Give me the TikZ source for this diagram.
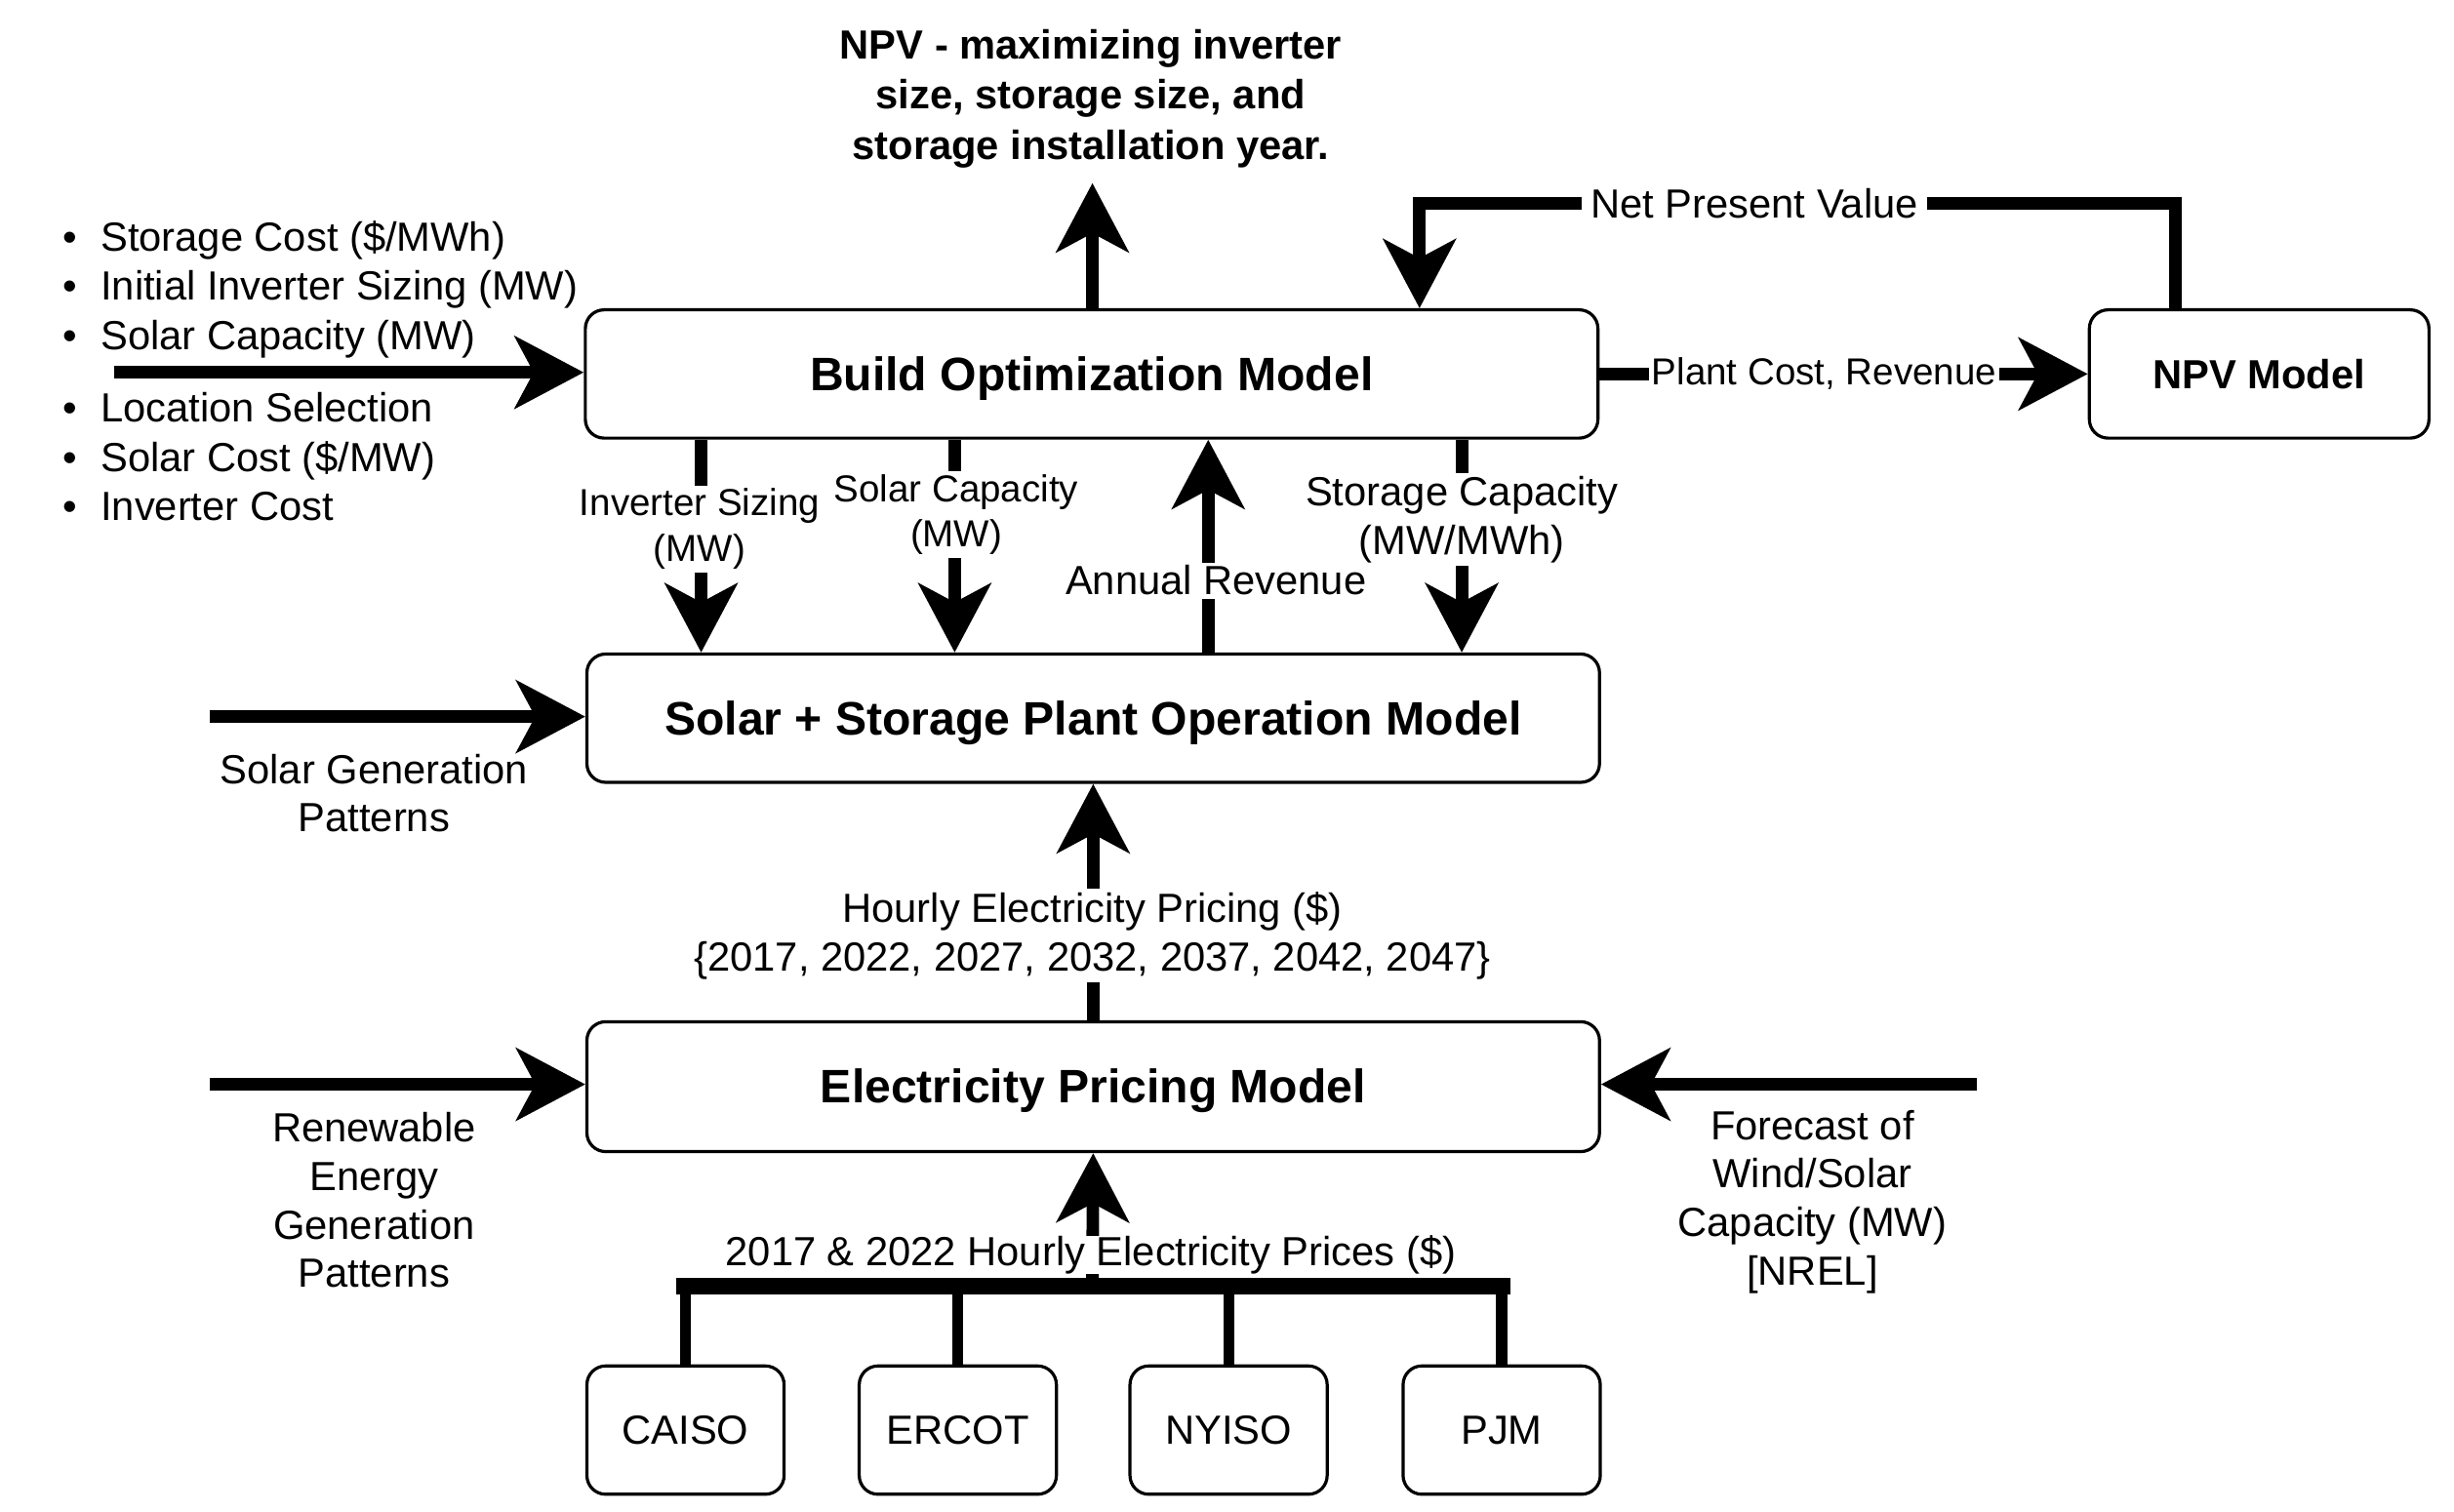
\documentclass[tikz,border=0pt]{standalone}
\usepackage{fontspec}
\setmainfont{Liberation Sans}
\usetikzlibrary{arrows.meta}
\tikzset{
  box/.style={draw=black, line width=1pt, rounded corners=6pt, fill=white, inner sep=0pt},
  bigbox/.style={box, minimum width=323.5pt, minimum height=41pt, text height=13.5pt, text depth=3pt, font=\fontsize{15}{18}\selectfont\bfseries},
  isobox/.style={box, minimum width=63pt, minimum height=41pt, font=\fontsize{13}{15.5}\selectfont},
  arr/.style={line width=4pt, -{Stealth[length=22pt,width=23pt,inset=6pt]}},
  lbl/.style={font=\fontsize{13}{15.5}\selectfont, align=center, inner sep=1pt},
  wlbl/.style={lbl, fill=white},
}
\begin{document}
\begin{tikzpicture}[x=0.5pt, y=-0.5pt]
\useasboundingbox (0,0) rectangle (1568,966);
% boxes
\node[bigbox] (build) at (697.5,239) {Build Optimization Model};
\node[box, minimum width=108.5pt, minimum height=41pt, font=\fontsize{13}{15.5}\selectfont\bfseries] (npv) at (1443.5,239) {NPV Model};
\node[bigbox] (solar) at (698.5,459) {Solar + Storage Plant Operation Model};
\node[bigbox, minimum height=41.5pt] (elec) at (698.5,694.5) {Electricity Pricing Model};
\node[isobox] (caiso) at (438,914) {CAISO};
\node[isobox] (ercot) at (612,914) {ERCOT};
\node[isobox] (nyiso) at (785,914) {NYISO};
\node[isobox] (pjm) at (959.5,914) {PJM};

% top output
\node[lbl, font=\fontsize{13}{16}\selectfont\bfseries] (goal) at (697,63) {NPV - maximizing inverter\\size, storage size, and\\storage installation year.};
\coordinate (goaltip) at (698,117);
\draw[arr] (build.north -| goaltip) -- (goaltip);

% left inputs to build
\node[lbl, anchor=west, align=left, inner sep=0pt, font=\fontsize{13}{15.7}\selectfont] (inA) at (40,185)
  {\makebox[12pt][l]{\textbullet}Storage Cost (\$/MWh)\\\makebox[12pt][l]{\textbullet}Initial Inverter Sizing (MW)\\\makebox[12pt][l]{\textbullet}Solar Capacity (MW)};
\node[lbl, anchor=west, align=left, inner sep=0pt, font=\fontsize{13}{15.7}\selectfont] (inB) at (40,292)
  {\makebox[12pt][l]{\textbullet}Location Selection\\\makebox[12pt][l]{\textbullet}Solar Cost (\$/MW)\\\makebox[12pt][l]{\textbullet}Inverter Cost};
\coordinate (inStart) at (73,238);
\draw[arr] (inStart) -- (build.west |- inStart);

% build -> npv
\draw[arr] (build.east |- npv.west) -- node[wlbl, pos=0.46, font=\fontsize{12}{14}\selectfont] (pcr) {Plant Cost, Revenue} (npv.west);

% npv -> build (net present value)
\coordinate (nT) at (1390,130);
\coordinate (bx) at (907,130);
\draw[arr] (npv.north -| nT) -- (nT) -- node[wlbl, pos=0.557, inner sep=3pt] (npvlbl) {Net Present Value} (bx) -- (build.north -| bx);

% build <-> solar
\coordinate (ix) at (448,0);
\coordinate (sx) at (610,0);
\coordinate (rx) at (772,0);
\coordinate (stx) at (934,0);
\draw[arr] (build.south -| ix) -- (solar.north -| ix);
\draw[arr] (build.south -| sx) -- (solar.north -| sx);
\draw[arr] (solar.north -| rx) -- (build.south -| rx);
\draw[arr] (build.south -| stx) -- (solar.north -| stx);
\node[wlbl, font=\fontsize{12}{14.5}\selectfont] (invl) at (447,338) {Inverter Sizing\\(MW)};
\node[wlbl, font=\fontsize{12}{14.5}\selectfont] (scl) at (611,329) {Solar Capacity\\(MW)};
\node[wlbl] (arl) at (777,371) {Annual Revenue};
\node[wlbl] (stl) at (934,332) {Storage Capacity\\(MW/MWh)};

% solar generation patterns
\coordinate (sgStart) at (134,458);
\draw[arr] (sgStart) -- (solar.west |- sgStart);
\node[lbl] (sgl) at (239,507) {Solar Generation\\Patterns};

% elec -> solar
\draw[arr] (elec.north) -- (solar.south);
\node[wlbl] (hep) at (698,598) {Hourly Electricity Pricing (\$)\\\{2017, 2022, 2027, 2032, 2037, 2042, 2047\}};

% renewable
\coordinate (reStart) at (134,693);
\draw[arr] (reStart) -- (elec.west |- reStart);
\node[lbl] (rel) at (239,767) {Renewable\\Energy\\Generation\\Patterns};

% forecast
\coordinate (fcStart) at (1263,693);
\draw[arr] (fcStart) -- (elec.east |- fcStart);
\node[lbl] (fcl) at (1158,768) {Forecast of\\Wind/Solar\\Capacity (MW)\\{[NREL]}};

% bus
\coordinate (busL) at (432,822);
\coordinate (busR) at (965,822);
\coordinate (busM) at (698,822);
\draw[line width=3.5pt] (caiso.north) -- (caiso.north |- busM);
\draw[line width=3.5pt] (ercot.north) -- (ercot.north |- busM);
\draw[line width=3.5pt] (nyiso.north) -- (nyiso.north |- busM);
\draw[line width=3.5pt] (pjm.north) -- (pjm.north |- busM);
\draw[arr] (busM) -- (elec.south);
\node[wlbl, inner sep=0pt] (hp) at (697,802) {2017 \& 2022 Hourly Electricity Prices (\$)};
\draw[line width=5pt] (busL) -- (busR);
\end{tikzpicture}
\end{document}
